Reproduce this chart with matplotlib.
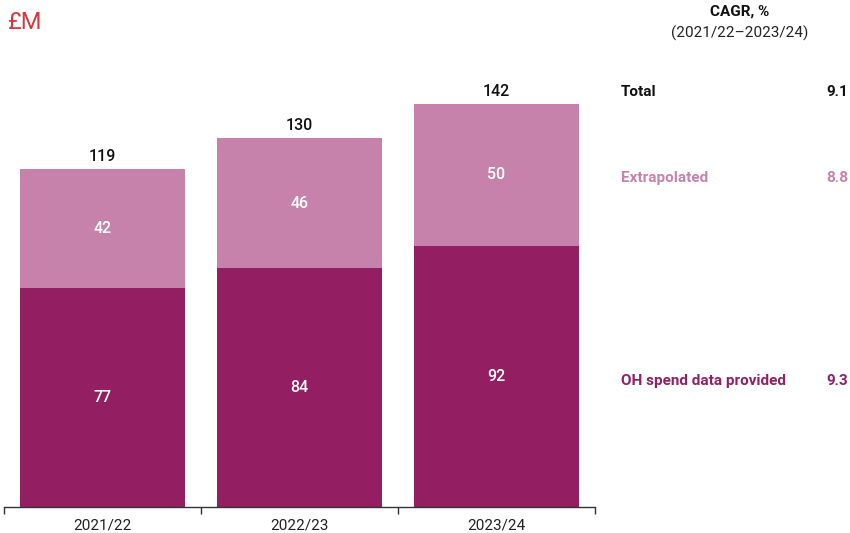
import matplotlib.pyplot as plt

plt.rcParams['font.family'] = ['Roboto', 'DejaVu Sans']

years = ["2021/22", "2022/23", "2023/24"]
oh_spend = [77, 84, 92]
extrapolated = [42, 46, 50]
totals = [119, 130, 142]
series_names = ["Total", "Extrapolated", "OH spend data provided"]
cagr = ["9.1", "8.8", "9.3"]

dark = "#931E62"
light = "#C682AA"

fig = plt.figure(figsize=(8.5, 5.33), dpi=100)
W, H = 850, 533
ax = fig.add_axes([4 / W, 1 - 507 / H, 591 / W, (507 - 52.6) / H])

x = range(len(years))
ax.bar(x, oh_spend, width=0.84, color=dark)
ax.bar(x, extrapolated, width=0.84, bottom=oh_spend, color=light)

for i in x:
    ax.text(i, oh_spend[i] / 2, str(oh_spend[i]), ha="center", va="center",
            color="white", fontsize=11.5, fontweight="medium")
    ax.text(i, oh_spend[i] + extrapolated[i] / 2, str(extrapolated[i]),
            ha="center", va="center", color="white", fontsize=11.5,
            fontweight="medium")
    ax.text(i, totals[i] + 1.6, str(totals[i]), ha="center", va="bottom",
            color="#111111", fontsize=11.5, fontweight="medium")

ax.set_xlim(-0.5, 2.5)
ax.set_ylim(0, 160)
ax.set_yticks([])
for s in ["left", "right", "top"]:
    ax.spines[s].set_visible(False)
ax.spines["bottom"].set_color("#333333")
ax.spines["bottom"].set_linewidth(1)
ax.set_xticks(list(x))
ax.set_xticklabels(years, fontsize=11, color="#222222")
ax.tick_params(axis="x", which="major", length=0, pad=8)
ax.set_xticks([-0.5, 0.5, 1.5, 2.5], minor=True)
ax.tick_params(axis="x", which="minor", length=5, color="#333333", width=1)

# unit label and CAGR panel
fig.text(8 / W, 1 - 22 / H, "£M", color="#D9363E", fontsize=17,
         ha="left", va="center")
fig.text(740 / W, 1 - 12 / H, "CAGR, %", fontsize=11, fontweight="bold",
         ha="center", va="center", color="#111111")
fig.text(740 / W, 1 - 33 / H, "(2021/22–2023/24)", fontsize=11,
         ha="center", va="center", color="#222222")

label_y = [totals[-1] + 4.2, oh_spend[-1] + extrapolated[-1] / 2 - 1.2,
           oh_spend[-1] / 2 - 1.8]
label_colors = ["#111111", light, dark]
for name, val, yv, c in zip(series_names, cagr, label_y, label_colors):
    ax.annotate(name, xy=(621 / W, yv), xycoords=("figure fraction", "data"),
                ha="left", va="center", fontsize=11, fontweight="bold",
                color=c, annotation_clip=False)
    ax.annotate(val, xy=(848 / W, yv), xycoords=("figure fraction", "data"),
                ha="right", va="center", fontsize=11, fontweight="bold",
                color=c, annotation_clip=False)

fig.savefig("out.png", dpi=100)
